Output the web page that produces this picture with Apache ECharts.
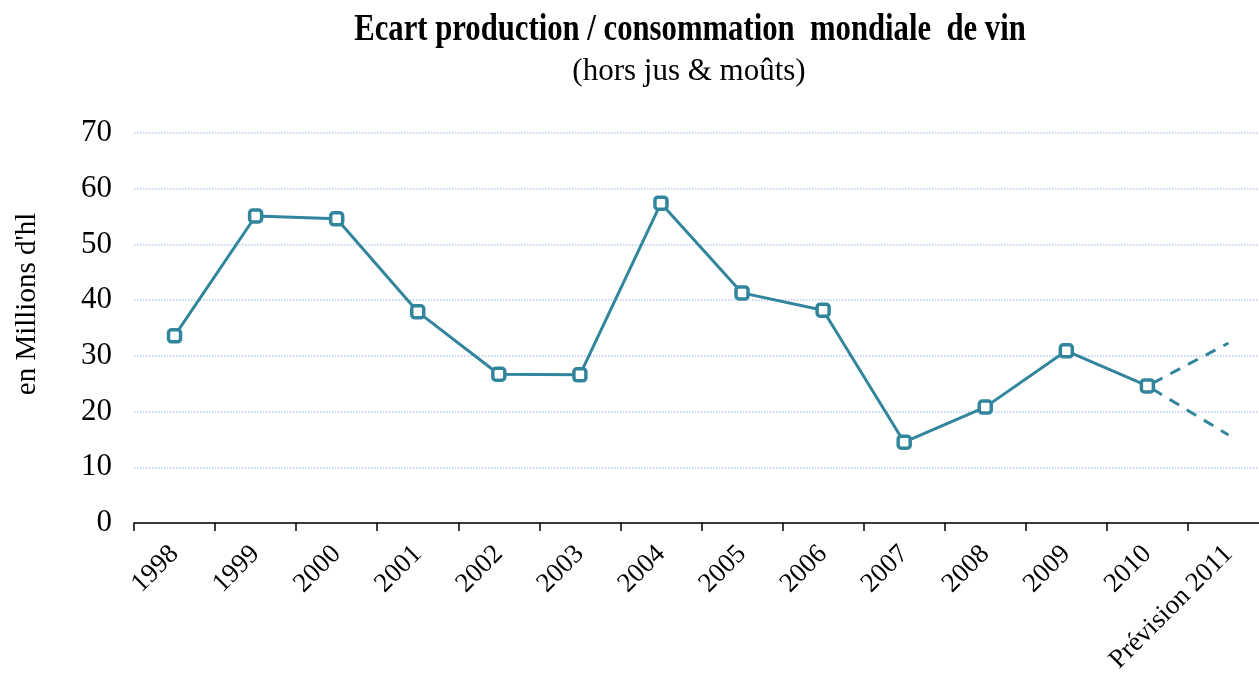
<!DOCTYPE html>
<html><head><meta charset="utf-8">
<script src="https://cdn.jsdelivr.net/npm/echarts@6/dist/echarts.min.js"></script>
<style>html,body{margin:0;padding:0;background:#fff}#c{width:1259px;height:687px}</style>
</head><body><div id="c"></div>
<script>
const categories = ['1998','1999','2000','2001','2002','2003','2004','2005','2006','2007','2008','2009','2010','Prévision 2011'];
const ecart = [33.6,55.1,54.6,37.9,26.7,26.6,57.4,41.3,38.2,14.5,20.8,30.9,24.6,null];
const previsionHaute = [null,null,null,null,null,null,null,null,null,null,null,null,24.6,32.3];
const previsionBasse = [null,null,null,null,null,null,null,null,null,null,null,null,24.6,15.8];
const yTicks = [0,10,20,30,40,50,60,70];

const col = '#31859C';
const font = '"Liberation Serif", "Times New Roman", serif';
const chart = echarts.init(document.getElementById('c'));
chart.setOption({
  backgroundColor:'#fff',
  animation:false,
  graphic:[
    {type:'text', x:690, y:30, scaleX:0.83, scaleY:1,
     style:{text:'Ecart production / consommation  mondiale  de vin', x:0, y:0, align:'center', verticalAlign:'middle',
       font:'bold 37px "Liberation Serif", serif', fill:'#000'}},
    {type:'text', x:689, y:72,
     style:{text:'(hors jus & moûts)', x:0, y:0, align:'center', verticalAlign:'middle',
       font:'31px "Liberation Serif", serif', fill:'#000'}},
    {type:'text', x:27, y:304, rotation:Math.PI/2,
     style:{text:"en Millions d'hl", x:0, y:0, align:'center', verticalAlign:'middle',
       font:'29px "Liberation Serif", serif', fill:'#000'}}
  ],
  grid:{left:134, top:133, height:390, width:1135, containLabel:false, outerBoundsMode:'none'},
  xAxis:{type:'category', data:categories, boundaryGap:true,
    axisLine:{lineStyle:{color:'#000', width:1.5}},
    axisTick:{show:true, length:8, lineStyle:{color:'#000', width:1.5}},
    axisLabel:{rotate:45, interval:0, fontFamily:font, fontSize:27, color:'#000', margin:27}
  },
  yAxis:{type:'value', min:yTicks[0], max:yTicks[yTicks.length-1], interval:10,
    axisLine:{show:false}, axisTick:{show:false},
    axisLabel:{fontFamily:font, fontSize:31, color:'#000', margin:22},
    splitLine:{lineStyle:{color:'#b7c9ee', type:'dotted', width:1.5}}
  },
  series:[
    {type:'line', data:previsionHaute, showSymbol:false, symbol:'none', connectNulls:false,
     lineStyle:{color:col, width:3, type:[11,9], dashOffset:-6}, z:1},
    {type:'line', data:previsionBasse, showSymbol:false, symbol:'none', connectNulls:false,
     lineStyle:{color:col, width:3, type:[11,9], dashOffset:-6}, z:1},
    {type:'line', data:ecart, symbol:'roundRect', symbolSize:12, connectNulls:false,
     lineStyle:{color:col, width:3},
     itemStyle:{color:'#fff', borderColor:col, borderWidth:3.5}, z:3}
  ]
});
</script></body></html>
